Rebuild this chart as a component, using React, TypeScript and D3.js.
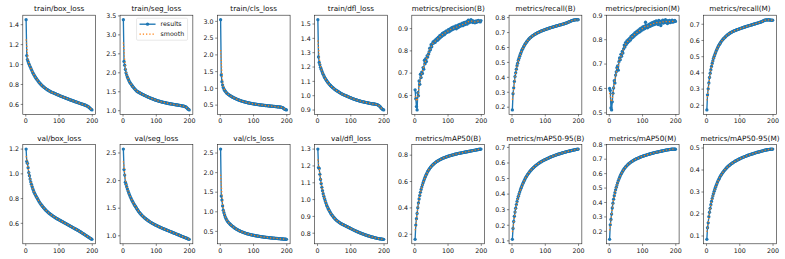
import React from "react";
import * as d3 from "d3";

const panelTitles = [
  "train/box_loss", "train/seg_loss", "train/cls_loss", "train/dfl_loss",
  "metrics/precision(B)", "metrics/recall(B)", "metrics/precision(M)", "metrics/recall(M)",
  "val/box_loss", "val/seg_loss", "val/cls_loss", "val/dfl_loss",
  "metrics/mAP50(B)", "metrics/mAP50-95(B)", "metrics/mAP50(M)", "metrics/mAP50-95(M)",
];

const totalEpochs = 200;
// sampled epochs 1, 3, 5, ..., 199
const epochs = d3.range(1, totalEpochs, 2);

const trainBoxLoss = [
  1.45, 1.09, 1.05, 1.03, 1.01, 0.995, 0.98, 0.965, 0.95, 0.935,
  0.918, 0.906, 0.895, 0.884, 0.873, 0.863, 0.853, 0.844, 0.835, 0.826,
  0.818, 0.810, 0.803, 0.796, 0.789, 0.783, 0.777, 0.771, 0.766, 0.761,
  0.756, 0.751, 0.747, 0.743, 0.739, 0.735, 0.731, 0.727, 0.724, 0.721,
  0.719, 0.716, 0.713, 0.710, 0.707, 0.704, 0.701, 0.698, 0.695, 0.692,
  0.689, 0.686, 0.684, 0.681, 0.678, 0.676, 0.673, 0.670, 0.668, 0.665,
  0.662, 0.660, 0.657, 0.655, 0.652, 0.649, 0.647, 0.644, 0.642, 0.639,
  0.637, 0.634, 0.632, 0.629, 0.627, 0.625, 0.622, 0.620, 0.618, 0.615,
  0.613, 0.611, 0.608, 0.606, 0.604, 0.601, 0.599, 0.597, 0.594, 0.592,
  0.589, 0.586, 0.583, 0.579, 0.574, 0.568, 0.562, 0.556, 0.550, 0.545,
];
const trainSegLoss = [
  3.40, 2.30, 2.20, 2.09, 2.00, 1.94, 1.89, 1.85, 1.81, 1.77,
  1.74, 1.715, 1.69, 1.665, 1.642, 1.62, 1.598, 1.577, 1.557, 1.537,
  1.518, 1.507, 1.497, 1.487, 1.477, 1.467, 1.457, 1.448, 1.439, 1.430,
  1.421, 1.413, 1.404, 1.396, 1.387, 1.379, 1.370, 1.362, 1.354, 1.346,
  1.339, 1.332, 1.325, 1.318, 1.311, 1.304, 1.297, 1.290, 1.284, 1.278,
  1.272, 1.266, 1.260, 1.255, 1.250, 1.245, 1.240, 1.235, 1.230, 1.226,
  1.222, 1.218, 1.214, 1.210, 1.206, 1.202, 1.198, 1.194, 1.190, 1.187,
  1.184, 1.181, 1.178, 1.175, 1.172, 1.169, 1.166, 1.163, 1.160, 1.157,
  1.154, 1.151, 1.148, 1.145, 1.142, 1.139, 1.136, 1.133, 1.130, 1.127,
  1.123, 1.119, 1.114, 1.108, 1.098, 1.082, 1.065, 1.048, 1.033, 1.022,
];
const trainClsLoss = [
  3.05, 1.40, 1.20, 1.10, 1.03, 0.98, 0.945, 0.915, 0.89, 0.865,
  0.845, 0.830, 0.815, 0.800, 0.787, 0.774, 0.762, 0.750, 0.739, 0.728,
  0.718, 0.708, 0.699, 0.690, 0.681, 0.672, 0.664, 0.656, 0.648, 0.640,
  0.633, 0.626, 0.620, 0.614, 0.608, 0.602, 0.596, 0.591, 0.586, 0.581,
  0.576, 0.571, 0.567, 0.563, 0.559, 0.555, 0.551, 0.547, 0.543, 0.540,
  0.536, 0.533, 0.530, 0.527, 0.524, 0.521, 0.518, 0.515, 0.512, 0.509,
  0.507, 0.504, 0.502, 0.499, 0.497, 0.494, 0.492, 0.489, 0.487, 0.485,
  0.483, 0.480, 0.478, 0.476, 0.474, 0.472, 0.470, 0.468, 0.466, 0.464,
  0.462, 0.460, 0.458, 0.456, 0.454, 0.452, 0.450, 0.448, 0.446, 0.444,
  0.442, 0.439, 0.435, 0.428, 0.414, 0.398, 0.383, 0.371, 0.363, 0.358,
];
const trainDflLoss = [
  1.530, 1.270, 1.232, 1.215, 1.198, 1.185, 1.172, 1.160, 1.149, 1.139,
  1.129, 1.121, 1.113, 1.106, 1.099, 1.093, 1.087, 1.081, 1.076, 1.071,
  1.066, 1.062, 1.058, 1.054, 1.050, 1.046, 1.042, 1.039, 1.036, 1.033,
  1.030, 1.027, 1.024, 1.021, 1.018, 1.015, 1.013, 1.010, 1.008, 1.006,
  1.004, 1.002, 1.000, 0.998, 0.996, 0.994, 0.992, 0.990, 0.988, 0.986,
  0.984, 0.982, 0.980, 0.978, 0.977, 0.975, 0.973, 0.972, 0.970, 0.969,
  0.967, 0.966, 0.964, 0.963, 0.962, 0.960, 0.959, 0.958, 0.957, 0.956,
  0.955, 0.954, 0.953, 0.952, 0.951, 0.950, 0.949, 0.948, 0.947, 0.946,
  0.945, 0.944, 0.944, 0.943, 0.942, 0.942, 0.941, 0.940, 0.939, 0.938,
  0.936, 0.933, 0.930, 0.926, 0.921, 0.915, 0.910, 0.906, 0.903, 0.901,
];
const precisionB = [
  0.625, 0.585, 0.550, 0.535, 0.612, 0.598, 0.665, 0.650, 0.695, 0.680,
  0.705, 0.698, 0.725, 0.718, 0.758, 0.742, 0.765, 0.752, 0.778, 0.772,
  0.785, 0.795, 0.812, 0.805, 0.828, 0.818, 0.832, 0.840, 0.835, 0.845,
  0.838, 0.850, 0.845, 0.856, 0.848, 0.862, 0.855, 0.868, 0.860, 0.872,
  0.865, 0.878, 0.870, 0.882, 0.873, 0.885, 0.879, 0.890, 0.883, 0.888,
  0.895, 0.886, 0.898, 0.890, 0.902, 0.894, 0.905, 0.897, 0.908, 0.900,
  0.903, 0.912, 0.899, 0.908, 0.915, 0.905, 0.918, 0.910, 0.920, 0.912,
  0.916, 0.924, 0.913, 0.921, 0.928, 0.918, 0.925, 0.930, 0.920, 0.933,
  0.938, 0.926, 0.935, 0.929, 0.940, 0.931, 0.936, 0.927, 0.934, 0.930,
  0.926, 0.933, 0.928, 0.935, 0.931, 0.937, 0.932, 0.934, 0.930, 0.936,
];
const recallB = [
  0.182, 0.290, 0.330, 0.372, 0.405, 0.430, 0.455, 0.478, 0.495, 0.515,
  0.528, 0.542, 0.555, 0.566, 0.578, 0.588, 0.596, 0.605, 0.613, 0.622,
  0.628, 0.635, 0.640, 0.646, 0.652, 0.657, 0.662, 0.666, 0.670, 0.673,
  0.677, 0.680, 0.683, 0.686, 0.689, 0.691, 0.694, 0.696, 0.699, 0.701,
  0.703, 0.705, 0.707, 0.709, 0.711, 0.713, 0.714, 0.716, 0.718, 0.719,
  0.721, 0.722, 0.724, 0.726, 0.727, 0.729, 0.730, 0.732, 0.733, 0.735,
  0.736, 0.737, 0.739, 0.740, 0.741, 0.743, 0.744, 0.745, 0.746, 0.748,
  0.749, 0.750, 0.751, 0.753, 0.754, 0.755, 0.757, 0.758, 0.759, 0.761,
  0.762, 0.764, 0.765, 0.767, 0.769, 0.771, 0.773, 0.775, 0.777, 0.779,
  0.781, 0.782, 0.783, 0.784, 0.785, 0.785, 0.786, 0.786, 0.785, 0.786,
];
const precisionM = [
  0.600, 0.592, 0.520, 0.512, 0.545, 0.580, 0.602, 0.632, 0.622, 0.655,
  0.668, 0.685, 0.692, 0.675, 0.710, 0.725, 0.718, 0.740, 0.732, 0.752,
  0.745, 0.762, 0.778, 0.770, 0.788, 0.780, 0.795, 0.787, 0.800, 0.793,
  0.805, 0.798, 0.812, 0.806, 0.818, 0.810, 0.822, 0.815, 0.828, 0.820,
  0.832, 0.824, 0.836, 0.829, 0.840, 0.832, 0.845, 0.836, 0.848, 0.840,
  0.852, 0.843, 0.855, 0.846, 0.872, 0.850, 0.858, 0.849, 0.861, 0.853,
  0.864, 0.855, 0.867, 0.858, 0.870, 0.860, 0.872, 0.862, 0.874, 0.864,
  0.877, 0.866, 0.873, 0.862, 0.879, 0.868, 0.875, 0.858, 0.876, 0.869,
  0.880, 0.868, 0.876, 0.871, 0.882, 0.870, 0.878, 0.866, 0.877, 0.872,
  0.879, 0.870, 0.876, 0.873, 0.880, 0.872, 0.877, 0.874, 0.879, 0.875,
];
const recallM = [
  0.172, 0.265, 0.302, 0.338, 0.372, 0.398, 0.420, 0.440, 0.458, 0.474,
  0.490, 0.502, 0.514, 0.525, 0.535, 0.545, 0.554, 0.562, 0.570, 0.577,
  0.583, 0.590, 0.596, 0.601, 0.606, 0.611, 0.615, 0.619, 0.623, 0.627,
  0.631, 0.634, 0.637, 0.640, 0.643, 0.646, 0.648, 0.651, 0.653, 0.655,
  0.657, 0.659, 0.661, 0.662, 0.664, 0.666, 0.667, 0.669, 0.670, 0.672,
  0.673, 0.675, 0.676, 0.678, 0.679, 0.680, 0.682, 0.683, 0.684, 0.686,
  0.687, 0.688, 0.690, 0.691, 0.692, 0.693, 0.695, 0.696, 0.697, 0.698,
  0.700, 0.701, 0.702, 0.703, 0.705, 0.706, 0.707, 0.708, 0.710, 0.711,
  0.712, 0.714, 0.715, 0.717, 0.719, 0.721, 0.723, 0.725, 0.726, 0.727,
  0.727, 0.726, 0.727, 0.728, 0.726, 0.727, 0.725, 0.726, 0.724, 0.725,
];
const valBoxLoss = [
  1.200, 1.100, 1.085, 1.050, 1.010, 0.985, 0.958, 0.935, 0.915, 0.897,
  0.880, 0.866, 0.852, 0.840, 0.830, 0.820, 0.810, 0.800, 0.790, 0.781,
  0.772, 0.764, 0.756, 0.749, 0.742, 0.735, 0.728, 0.722, 0.716, 0.710,
  0.704, 0.699, 0.694, 0.689, 0.684, 0.680, 0.676, 0.672, 0.668, 0.664,
  0.660, 0.657, 0.653, 0.649, 0.646, 0.642, 0.639, 0.636, 0.633, 0.630,
  0.627, 0.624, 0.621, 0.618, 0.615, 0.612, 0.609, 0.606, 0.603, 0.600,
  0.597, 0.594, 0.591, 0.588, 0.585, 0.582, 0.579, 0.576, 0.573, 0.570,
  0.567, 0.564, 0.561, 0.558, 0.555, 0.552, 0.549, 0.546, 0.543, 0.540,
  0.537, 0.533, 0.530, 0.526, 0.523, 0.519, 0.516, 0.512, 0.509, 0.505,
  0.502, 0.498, 0.495, 0.491, 0.488, 0.484, 0.481, 0.477, 0.474, 0.471,
];
const valSegLoss = [
  2.570, 2.200, 2.100, 1.970, 1.935, 1.890, 1.850, 1.815, 1.782, 1.750,
  1.720, 1.692, 1.665, 1.640, 1.617, 1.595, 1.575, 1.555, 1.536, 1.518,
  1.495, 1.476, 1.458, 1.441, 1.425, 1.410, 1.396, 1.383, 1.370, 1.358,
  1.346, 1.335, 1.324, 1.314, 1.304, 1.295, 1.286, 1.277, 1.269, 1.261,
  1.253, 1.245, 1.238, 1.231, 1.224, 1.217, 1.210, 1.204, 1.198, 1.192,
  1.186, 1.180, 1.174, 1.168, 1.162, 1.157, 1.151, 1.146, 1.140, 1.135,
  1.130, 1.125, 1.120, 1.115, 1.110, 1.105, 1.100, 1.095, 1.090, 1.085,
  1.080, 1.075, 1.070, 1.065, 1.060, 1.055, 1.050, 1.046, 1.041, 1.036,
  1.031, 1.026, 1.021, 1.016, 1.011, 1.006, 1.001, 0.996, 0.991, 0.986,
  0.981, 0.976, 0.971, 0.966, 0.961, 0.956, 0.951, 0.946, 0.941, 0.937,
];
const valClsLoss = [
  2.600, 1.400, 1.300, 1.150, 1.040, 0.975, 0.920, 0.870, 0.830, 0.795,
  0.768, 0.745, 0.724, 0.705, 0.688, 0.672, 0.657, 0.643, 0.630, 0.618,
  0.600, 0.588, 0.576, 0.565, 0.555, 0.545, 0.536, 0.527, 0.518, 0.510,
  0.502, 0.495, 0.488, 0.481, 0.474, 0.468, 0.462, 0.456, 0.450, 0.445,
  0.440, 0.435, 0.430, 0.425, 0.421, 0.417, 0.413, 0.409, 0.405, 0.401,
  0.398, 0.395, 0.391, 0.388, 0.385, 0.382, 0.379, 0.376, 0.373, 0.370,
  0.368, 0.365, 0.363, 0.360, 0.358, 0.355, 0.353, 0.351, 0.349, 0.347,
  0.345, 0.343, 0.341, 0.339, 0.337, 0.335, 0.333, 0.331, 0.330, 0.328,
  0.326, 0.325, 0.323, 0.322, 0.320, 0.319, 0.317, 0.316, 0.314, 0.313,
  0.311, 0.310, 0.308, 0.307, 0.305, 0.304, 0.302, 0.301, 0.299, 0.298,
];
const valDflLoss = [
  1.300, 1.190, 1.185, 1.150, 1.120, 1.095, 1.073, 1.053, 1.035, 1.020,
  1.006, 0.993, 0.981, 0.970, 0.960, 0.951, 0.943, 0.935, 0.928, 0.921,
  0.915, 0.909, 0.904, 0.899, 0.894, 0.889, 0.885, 0.881, 0.877, 0.874,
  0.871, 0.868, 0.865, 0.862, 0.860, 0.857, 0.855, 0.853, 0.851, 0.849,
  0.847, 0.845, 0.843, 0.841, 0.839, 0.837, 0.835, 0.833, 0.831, 0.829,
  0.827, 0.825, 0.823, 0.821, 0.819, 0.817, 0.815, 0.813, 0.812, 0.810,
  0.808, 0.806, 0.805, 0.803, 0.801, 0.800, 0.798, 0.797, 0.795, 0.794,
  0.792, 0.791, 0.789, 0.788, 0.787, 0.785, 0.784, 0.783, 0.782, 0.780,
  0.779, 0.778, 0.777, 0.776, 0.775, 0.774, 0.773, 0.772, 0.771, 0.770,
  0.769, 0.768, 0.768, 0.767, 0.766, 0.766, 0.765, 0.765, 0.764, 0.764,
];
const mAP50B = [
  0.162, 0.270, 0.318, 0.358, 0.402, 0.438, 0.468, 0.495, 0.518, 0.540,
  0.558, 0.575, 0.591, 0.606, 0.620, 0.633, 0.645, 0.656, 0.666, 0.676,
  0.685, 0.693, 0.700, 0.707, 0.713, 0.719, 0.724, 0.729, 0.734, 0.738,
  0.742, 0.746, 0.750, 0.753, 0.756, 0.759, 0.762, 0.765, 0.768, 0.770,
  0.773, 0.775, 0.777, 0.779, 0.781, 0.783, 0.785, 0.787, 0.789, 0.790,
  0.792, 0.794, 0.795, 0.797, 0.798, 0.800, 0.801, 0.803, 0.804, 0.805,
  0.807, 0.808, 0.809, 0.810, 0.812, 0.813, 0.814, 0.815, 0.816, 0.817,
  0.818, 0.819, 0.820, 0.821, 0.822, 0.823, 0.824, 0.825, 0.826, 0.827,
  0.828, 0.829, 0.830, 0.831, 0.832, 0.833, 0.834, 0.835, 0.836, 0.837,
  0.838, 0.839, 0.840, 0.841, 0.842, 0.843, 0.844, 0.845, 0.845, 0.846,
];
const mAP5095B = [
  0.110, 0.180, 0.225, 0.258, 0.285, 0.310, 0.333, 0.352, 0.370, 0.386,
  0.400, 0.413, 0.426, 0.438, 0.449, 0.460, 0.470, 0.479, 0.488, 0.497,
  0.505, 0.512, 0.519, 0.526, 0.532, 0.538, 0.544, 0.549, 0.554, 0.559,
  0.563, 0.567, 0.571, 0.575, 0.579, 0.583, 0.586, 0.590, 0.593, 0.596,
  0.599, 0.602, 0.605, 0.607, 0.610, 0.612, 0.615, 0.617, 0.619, 0.621,
  0.623, 0.625, 0.627, 0.629, 0.631, 0.633, 0.635, 0.637, 0.639, 0.641,
  0.642, 0.644, 0.646, 0.647, 0.649, 0.650, 0.652, 0.653, 0.655, 0.656,
  0.658, 0.659, 0.660, 0.662, 0.663, 0.664, 0.666, 0.667, 0.668, 0.669,
  0.670, 0.672, 0.673, 0.674, 0.675, 0.676, 0.677, 0.678, 0.679, 0.680,
  0.681, 0.682, 0.683, 0.684, 0.685, 0.686, 0.687, 0.687, 0.688, 0.689,
];
const mAP50M = [
  0.145, 0.245, 0.282, 0.320, 0.362, 0.395, 0.423, 0.447, 0.468, 0.488,
  0.505, 0.521, 0.536, 0.550, 0.562, 0.574, 0.585, 0.595, 0.604, 0.612,
  0.620, 0.627, 0.634, 0.640, 0.646, 0.651, 0.656, 0.661, 0.665, 0.669,
  0.673, 0.677, 0.680, 0.683, 0.686, 0.689, 0.692, 0.695, 0.697, 0.700,
  0.702, 0.704, 0.706, 0.708, 0.710, 0.712, 0.714, 0.716, 0.718, 0.719,
  0.721, 0.723, 0.724, 0.726, 0.727, 0.729, 0.730, 0.732, 0.733, 0.734,
  0.736, 0.737, 0.738, 0.740, 0.741, 0.742, 0.743, 0.745, 0.746, 0.747,
  0.748, 0.749, 0.750, 0.751, 0.752, 0.753, 0.754, 0.755, 0.756, 0.757,
  0.758, 0.759, 0.760, 0.761, 0.762, 0.763, 0.764, 0.765, 0.765, 0.766,
  0.767, 0.768, 0.768, 0.769, 0.769, 0.770, 0.770, 0.769, 0.770, 0.769,
];
const mAP5095M = [
  0.085, 0.138, 0.160, 0.188, 0.208, 0.226, 0.242, 0.257, 0.270, 0.282,
  0.293, 0.303, 0.313, 0.322, 0.330, 0.338, 0.345, 0.352, 0.358, 0.364,
  0.370, 0.375, 0.380, 0.385, 0.389, 0.393, 0.397, 0.401, 0.404, 0.408,
  0.411, 0.414, 0.417, 0.419, 0.422, 0.424, 0.427, 0.429, 0.431, 0.433,
  0.435, 0.437, 0.439, 0.441, 0.442, 0.444, 0.446, 0.447, 0.449, 0.450,
  0.452, 0.453, 0.455, 0.456, 0.457, 0.459, 0.460, 0.461, 0.462, 0.463,
  0.465, 0.466, 0.467, 0.468, 0.469, 0.470, 0.471, 0.472, 0.473, 0.474,
  0.475, 0.476, 0.477, 0.478, 0.479, 0.480, 0.481, 0.481, 0.482, 0.483,
  0.484, 0.485, 0.486, 0.486, 0.487, 0.488, 0.489, 0.490, 0.490, 0.491,
  0.492, 0.492, 0.493, 0.493, 0.494, 0.494, 0.495, 0.495, 0.494, 0.495,
];

const panelSeries = [
  trainBoxLoss, trainSegLoss, trainClsLoss, trainDflLoss,
  precisionB, recallB, precisionM, recallM,
  valBoxLoss, valSegLoss, valClsLoss, valDflLoss,
  mAP50B, mAP5095B, mAP50M, mAP5095M,
];

const panelYTicks = [
  [0.6, 0.8, 1.0, 1.2, 1.4],
  [1.0, 1.5, 2.0, 2.5, 3.0, 3.5],
  [0.5, 1.0, 1.5, 2.0, 2.5, 3.0],
  [0.9, 1.0, 1.1, 1.2, 1.3, 1.4, 1.5],
  [0.6, 0.7, 0.8, 0.9],
  [0.2, 0.3, 0.4, 0.5, 0.6, 0.7, 0.8],
  [0.5, 0.6, 0.7, 0.8, 0.9],
  [0.2, 0.3, 0.4, 0.5, 0.6, 0.7],
  [0.6, 0.8, 1.0, 1.2],
  [1.0, 1.5, 2.0, 2.5],
  [0.5, 1.0, 1.5, 2.0, 2.5],
  [0.8, 0.9, 1.0, 1.1, 1.2, 1.3],
  [0.2, 0.4, 0.6, 0.8],
  [0.1, 0.2, 0.3, 0.4, 0.5, 0.6, 0.7],
  [0.2, 0.3, 0.4, 0.5, 0.6, 0.7, 0.8],
  [0.1, 0.2, 0.3, 0.4, 0.5],
];
const xTicks = [0, 100, 200];
const legendLabels = ["results", "smooth"];

const BLUE = "#1f77b4";
const ORANGE = "#ff7f0e";
const FONT = "DejaVu Sans, Liberation Sans, sans-serif";

function gaussianSmooth(values: number[], sigma: number): number[] {
  const radius = Math.floor(4 * sigma + 0.5);
  const offsets = d3.range(-radius, radius + 1);
  const weights = offsets.map((k) => Math.exp(-0.5 * (k / sigma) ** 2));
  const wsum = d3.sum(weights);
  const n = values.length;
  const at = (i: number) => {
    let j = i;
    while (j < 0 || j >= n) {
      if (j < 0) j = -j - 1;
      if (j >= n) j = 2 * n - j - 1;
    }
    return values[j];
  };
  return values.map((_, i) => d3.sum(offsets, (k, idx) => weights[idx] * at(i + k)) / wsum);
}

const fmt = d3.format(".1f");

function Panel(props: {
  idx: number; left: number; top: number; width: number; height: number;
}) {
  const { idx, left, top, width, height } = props;
  const values = panelSeries[idx];
  const smooth = gaussianSmooth(values, 1.5);
  const span = totalEpochs - 1;
  const x = d3.scaleLinear()
    .domain([1 - 0.05 * span, totalEpochs + 0.05 * span])
    .range([left, left + width]);
  const lo = Math.min(d3.min(values) as number, d3.min(smooth) as number);
  const hi = Math.max(d3.max(values) as number, d3.max(smooth) as number);
  const pad = 0.05 * (hi - lo);
  const y = d3.scaleLinear().domain([lo - pad, hi + pad]).range([top + height, top]);
  const line = d3.line<number>().x((_, i) => x(epochs[i])).y((d) => y(d));
  const bottom = top + height;
  const clipId = `clip${idx}`;
  return (
    <g>
      <defs>
        <clipPath id={clipId}>
          <rect x={left} y={top} width={width} height={height} />
        </clipPath>
      </defs>
      <text x={left + width / 2} y={top - 3.8} textAnchor="middle" fontSize={7.27} fill="#111">
        {panelTitles[idx]}
      </text>
      <g clipPath={`url(#${clipId})`}>
        <path d={line(values) || ""} fill="none" stroke={BLUE} strokeWidth={1.35} strokeLinejoin="round" />
        {values.map((v, i) => (
          <circle key={i} cx={x(epochs[i])} cy={y(v)} r={1.65} fill={BLUE} />
        ))}
        <path d={line(smooth) || ""} fill="none" stroke={ORANGE} strokeWidth={1.25} strokeDasharray="1.25,2" />
      </g>
      <rect x={left} y={top} width={width} height={height} fill="none" stroke="#222" strokeWidth={0.6} />
      {panelYTicks[idx].map((t) => (
        <g key={t}>
          <line x1={left - 2.1} x2={left} y1={y(t)} y2={y(t)} stroke="#222" strokeWidth={0.55} />
          <text x={left - 3.8} y={y(t)} dy="0.36em" textAnchor="end" fontSize={6.3} fill="#111">
            {fmt(t)}
          </text>
        </g>
      ))}
      {xTicks.map((t) => (
        <g key={t}>
          <line x1={x(t)} x2={x(t)} y1={bottom} y2={bottom + 2.1} stroke="#222" strokeWidth={0.55} />
          <text x={x(t)} y={bottom + 8.7} textAnchor="middle" fontSize={6.3} fill="#111">
            {String(t)}
          </text>
        </g>
      ))}
      {idx === 1 && (
        <g>
          <rect x={left + 16.5} y={top + 3} width={51} height={22} rx={1.2}
            fill="#fff" fillOpacity={0.8} stroke="#d0d0d0" strokeWidth={0.5} />
          <line x1={left + 19.5} x2={left + 35.5} y1={top + 9} y2={top + 9} stroke={BLUE} strokeWidth={1.35} />
          <circle cx={left + 27.5} cy={top + 9} r={1.65} fill={BLUE} />
          <text x={left + 40.5} y={top + 9} dy="0.36em" fontSize={6.3} fill="#111">{legendLabels[0]}</text>
          <line x1={left + 19.5} x2={left + 35.5} y1={top + 19} y2={top + 19} stroke={ORANGE} strokeWidth={1.25} strokeDasharray="1.25,2" />
          <text x={left + 40.5} y={top + 19} dy="0.36em" fontSize={6.3} fill="#111">{legendLabels[1]}</text>
        </g>
      )}
    </g>
  );
}

export default function App() {
  const W = 785;
  const H = 259;
  const colLeft0 = 22.8;
  const colPitch = 97.25;
  const panelW = 72.8;
  const rowTops = [15.2, 144.6];
  const panelH = 99.2;
  return (
    <svg width={W} height={H} viewBox={`0 0 ${W} ${H}`}
      style={{ position: "absolute", left: 0, top: 0, background: "#fff" }}
      fontFamily={FONT}>
      <rect x={0} y={0} width={W} height={H} fill="#fff" />
      {panelTitles.map((_, idx) => {
        const row = Math.floor(idx / 8);
        const col = idx % 8;
        return (
          <Panel key={idx} idx={idx} left={colLeft0 + col * colPitch} top={rowTops[row]}
            width={panelW} height={panelH} />
        );
      })}
    </svg>
  );
}
